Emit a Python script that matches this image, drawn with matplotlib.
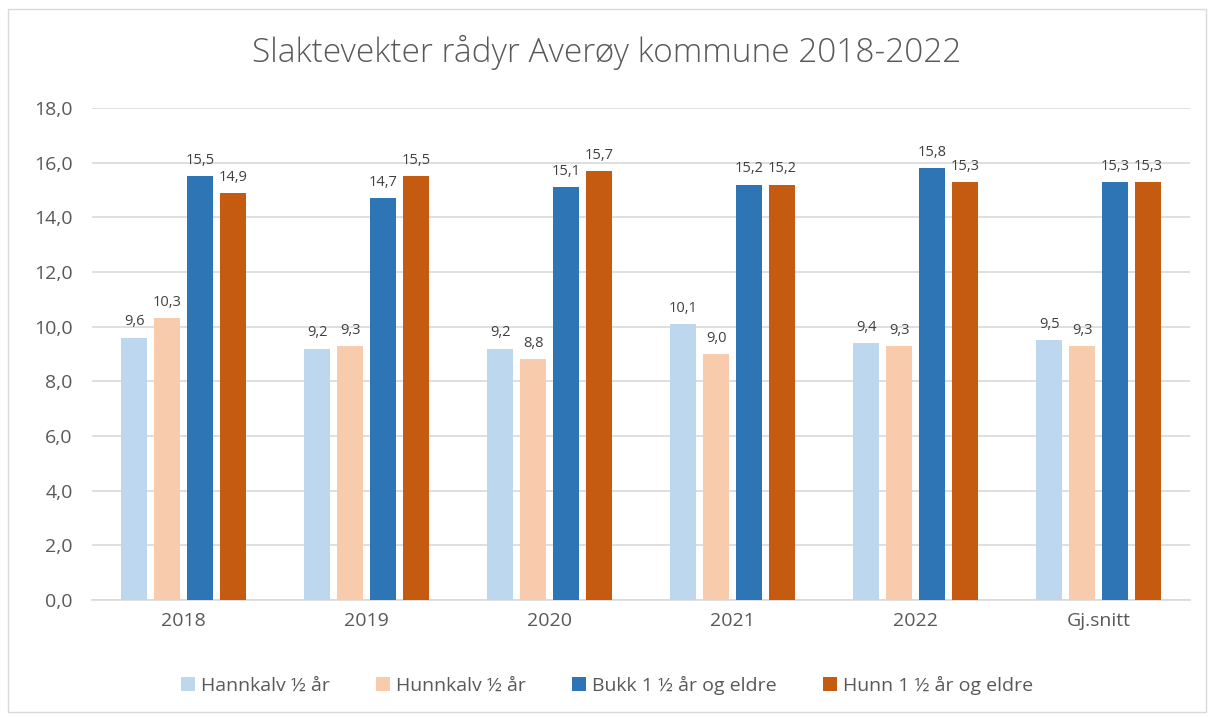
import numpy as np
import matplotlib.pyplot as plt
from matplotlib.patches import Rectangle

# data
categories = ['2018', '2019', '2020', '2021', '2022', 'Gj.snitt']
hannkalv = [9.6, 9.2, 9.2, 10.1, 9.4, 9.5]
hunnkalv = [10.3, 9.3, 8.8, 9.0, 9.3, 9.3]
bukk = [15.5, 14.7, 15.1, 15.2, 15.8, 15.3]
hunn = [14.9, 15.5, 15.7, 15.2, 15.3, 15.3]
series_names = ['Hannkalv ½ år', 'Hunnkalv ½ år', 'Bukk 1 ½ år og eldre', 'Hunn 1 ½ år og eldre']
colors = ['#BDD7EE', '#F8CBAD', '#2E75B6', '#C55A11']

plt.rcParams['font.family'] = ['Open Sans', 'DejaVu Sans']
txt = '#595959'

fig = plt.figure(figsize=(12.14, 7.17), dpi=100)
ax = fig.add_axes([92 / 1214, 1 - 600 / 717, 1098 / 1214, 492 / 717])

# chart border
fig.patches.append(Rectangle((8 / 1214, 1 - 712 / 717), 1198 / 1214, 703 / 717,
                             transform=fig.transFigure, fill=False,
                             edgecolor='#D9D9D9', linewidth=1))

x = np.arange(len(categories))
width = 0.142
pitch = 0.18
all_series = [hannkalv, hunnkalv, bukk, hunn]
for i, (vals, name, c) in enumerate(zip(all_series, series_names, colors)):
    pos = x + (i - 1.5) * pitch
    bars = ax.bar(pos, vals, width, color=c, label=name, zorder=3)
    for b, v in zip(bars, vals):
        ax.text(b.get_x() + b.get_width() / 2, v + 0.3, f'{v:.1f}'.replace('.', ','),
                ha='center', va='bottom', fontsize=10.5, color='#404040', zorder=4)

ax.set_xlim(-0.5, len(categories) - 0.5)
ax.set_ylim(0, 18)
ax.set_yticks(np.arange(0, 18.1, 2))
ax.set_yticklabels([f'{v:.1f}'.replace('.', ',') for v in np.arange(0, 18.1, 2)])
ax.set_xticks(x)
ax.set_xticklabels(categories)
ax.tick_params(axis='both', length=0, labelsize=14, colors=txt)
ax.tick_params(axis='x', pad=9)
ax.tick_params(axis='y', pad=14)
ax.grid(axis='y', color='#D9D9D9', linewidth=1.2, zorder=0)
for s in ['top', 'right', 'left']:
    ax.spines[s].set_visible(False)
ax.spines['bottom'].set_color('#D9D9D9')
ax.spines['bottom'].set_linewidth(1.2)

fig.text(0.5, 1 - 52 / 717, 'Slaktevekter rådyr Averøy kommune 2018-2022',
         ha='center', va='center', fontsize=24, color=txt, fontweight='light')

fig.legend(loc='center', bbox_to_anchor=(0.5, 1 - 685 / 717), ncol=4, frameon=False,
           fontsize=14, labelcolor=txt, handlelength=0.7, handleheight=0.7,
           handletextpad=0.3, columnspacing=2.4)

fig.savefig('out.png', dpi=100)
